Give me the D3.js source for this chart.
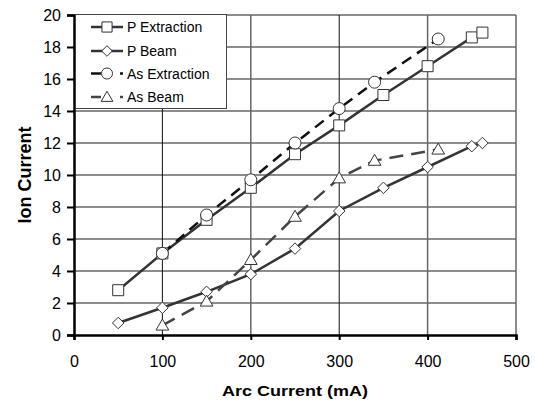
<!DOCTYPE html>
<html>
<head>
<meta charset="utf-8">
<script src="https://cdn.jsdelivr.net/npm/d3@7"></script>
<style>
body { margin: 0; background: #fff; }
text { font-family: "Liberation Sans", Arial, sans-serif; }
</style>
</head>
<body>
<script>
var pExtX = [50, 100, 150, 200, 250, 300, 350, 400, 450, 462];
var pExtY = [2.8, 5.1, 7.2, 9.2, 11.3, 13.1, 15.0, 16.8, 18.6, 18.9];
var pBeamX = [50, 100, 150, 200, 250, 300, 350, 400, 450, 462];
var pBeamY = [0.75, 1.7, 2.7, 3.8, 5.4, 7.75, 9.2, 10.5, 11.8, 12.0];
var asExtX = [100, 150, 200, 250, 300, 340, 412];
var asExtY = [5.1, 7.5, 9.7, 12.0, 14.15, 15.8, 18.5];
var asBeamX = [100, 150, 200, 250, 300, 340, 412];
var asBeamY = [0.6, 2.1, 4.7, 7.4, 9.8, 10.9, 11.6];
var xTicks = [0, 100, 200, 300, 400, 500];
var yTicks = [0, 2, 4, 6, 8, 10, 12, 14, 16, 18, 20];

var width = 535, height = 405;
var plotL = 74, plotR = 516, plotT = 15, plotB = 335;

var svg = d3.select('body').append('svg')
  .attr('width', width).attr('height', height);

var x = d3.scaleLinear().domain([0, 500]).range([plotL, plotR]);
var y = d3.scaleLinear().domain([0, 20]).range([plotB, plotT]);

// grid
svg.selectAll('line.hgrid').data(yTicks.slice(1)).enter().append('line')
  .attr('x1', plotL).attr('x2', plotR)
  .attr('y1', function(d){return y(d);}).attr('y2', function(d){return y(d);})
  .attr('stroke', '#666').attr('stroke-width', 1.3);
svg.selectAll('line.vgrid').data(xTicks.slice(1)).enter().append('line')
  .attr('y1', plotT).attr('y2', plotB)
  .attr('x1', function(d){return x(d);}).attr('x2', function(d){return x(d);})
  .attr('stroke', function(d){return (d == 100 || d == 300) ? '#111' : '#666';})
  .attr('stroke-width', function(d){return (d == 100 || d == 300) ? 1 : 1.5;});

// axes
var yAxis = d3.axisLeft(y).tickValues(yTicks).tickSize(7).tickPadding(6);
var xAxis = d3.axisBottom(x).tickValues(xTicks).tickSize(5).tickPadding(16);
var gy = svg.append('g').attr('transform', 'translate(' + plotL + ',0)').call(yAxis);
var gx = svg.append('g').attr('transform', 'translate(0,' + plotB + ')').call(xAxis);
[gy, gx].forEach(function(g){
  g.select('.domain').attr('stroke', '#000').attr('stroke-width', 2.5);
  g.selectAll('.tick line').attr('stroke', '#000').attr('stroke-width', 2);
  g.selectAll('.tick text').attr('font-size', 16).attr('fill', '#000')
    .attr('font-family', '"Liberation Sans", Arial, sans-serif');
});

svg.append('text').attr('transform', 'translate(' + x(250) + ',396) scale(1,0.85)')
  .attr('text-anchor', 'middle').attr('font-size', 18).attr('font-weight', 'bold')
  .text('Arc Current (mA)');
svg.append('text').attr('transform', 'translate(31,' + y(10) + ') rotate(-90)')
  .attr('text-anchor', 'middle').attr('font-size', 18).attr('font-weight', 'bold')
  .text('Ion Current');

// square turned 45 degrees
var diamond = {
  draw: function(ctx, size) {
    var r = Math.sqrt(size / 2);
    ctx.moveTo(0, -r); ctx.lineTo(r, 0); ctx.lineTo(0, r); ctx.lineTo(-r, 0); ctx.closePath();
  }
};

var series = [
  {name: 'P Extraction', xs: pExtX, ys: pExtY, color: '#333', dash: null, sym: d3.symbolSquare, size: 121},
  {name: 'P Beam', xs: pBeamX, ys: pBeamY, color: '#333', dash: null, sym: diamond, size: 66},
  {name: 'As Extraction', xs: asExtX, ys: asExtY, color: '#111', dash: '11,7', sym: d3.symbolCircle, size: 113},
  {name: 'As Beam', xs: asBeamX, ys: asBeamY, color: '#444', dash: '14,8', sym: d3.symbolTriangle, size: 70}
];

var line = d3.line();
series.forEach(function(s){
  var pts = s.xs.map(function(v, i){return [x(v), y(s.ys[i])];});
  svg.append('path').attr('d', line(pts))
    .attr('fill', 'none').attr('stroke', s.color).attr('stroke-width', 2.5)
    .attr('stroke-dasharray', s.dash);
});
series.forEach(function(s){
  svg.selectAll(null).data(s.xs).enter().append('path')
    .attr('d', d3.symbol().type(s.sym).size(s.size))
    .attr('transform', function(d, i){
      var ty = y(s.ys[i]) + (s.sym === d3.symbolTriangle ? 1 : 0);
      return 'translate(' + x(d) + ',' + ty + ')';
    })
    .attr('fill', '#fff').attr('stroke', '#333').attr('stroke-width', 1);
});

// legend
var lg = svg.append('g');
lg.append('rect').attr('x', 75.5).attr('y', 14.5).attr('width', 151).attr('height', 94)
  .attr('fill', '#fff').attr('stroke', '#444').attr('stroke-width', 1);
var rowsY = [27, 51, 73.5, 97];
series.forEach(function(s, i){
  var yy = rowsY[i];
  if (s.dash) {
    lg.append('line').attr('x1', 91).attr('x2', 101).attr('y1', yy).attr('y2', yy)
      .attr('stroke', s.color).attr('stroke-width', 2.5);
    lg.append('line').attr('x1', 120).attr('x2', 123).attr('y1', yy).attr('y2', yy)
      .attr('stroke', s.color).attr('stroke-width', 2.5);
  } else {
    lg.append('line').attr('x1', 91).attr('x2', 123).attr('y1', yy).attr('y2', yy)
      .attr('stroke', s.color).attr('stroke-width', 2.5);
  }
  lg.append('path').attr('d', d3.symbol().type(s.sym).size(s.size * 0.85))
    .attr('transform', 'translate(107,' + (yy + (s.sym === d3.symbolTriangle ? 1 : 0)) + ')')
    .attr('fill', '#fff').attr('stroke', '#333').attr('stroke-width', 1);
  lg.append('text').attr('x', 127).attr('y', yy + 5).attr('font-size', 14)
    .attr('fill', '#000').text(s.name);
});
</script>
</body>
</html>
